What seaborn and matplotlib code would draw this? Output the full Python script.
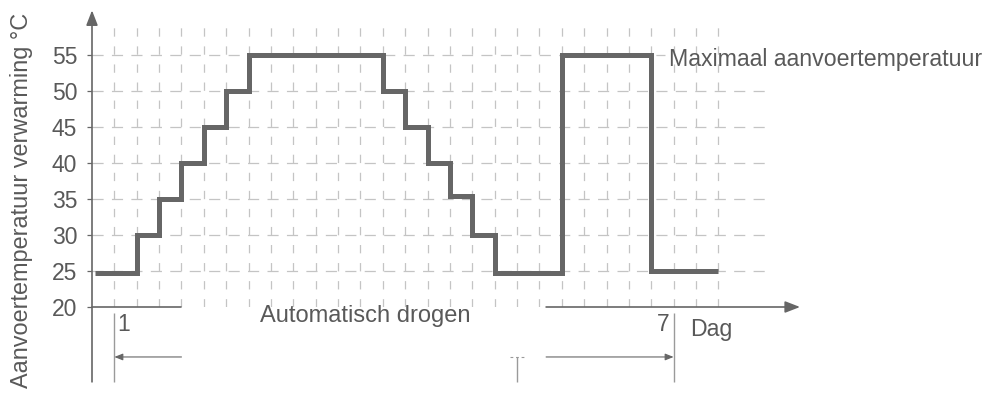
import matplotlib
matplotlib.use("Agg")
import matplotlib.pyplot as plt
import seaborn as sns

# ── data ──────────────────────────────────────────────────────────
# x in grid steps (grid line 1 = day 1, grid line 26 = day 7)
step_x = [0.15, 2, 3, 4, 5, 6, 7, 13, 14, 15, 16, 17, 18, 21, 25, 28]
step_temp = [24.7, 30, 35, 40, 45, 50, 55, 50, 45, 40, 35.4, 30, 24.7, 55, 25, 25]
y_ticks = [20, 25, 30, 35, 40, 45, 50, 55]
grid_x = list(range(1, 29))
grid_y = [25, 30, 35, 40, 45, 50, 55]

ylabel = "Aanvoertemperatuur verwarming °C"
max_label = "Maximaal aanvoertemperatuur"
dry_label = "Automatisch drogen"
x_label = "Dag"

# ── style ─────────────────────────────────────────────────────────
sns.set_style("white")
plt.rcParams["font.family"] = ["Liberation Sans", "DejaVu Sans"]
plt.rcParams["lines.scale_dashes"] = False

TXT = "#595959"
AX = "#666666"
GRID = "#c4c4c4"
LINE = "#666666"

fig = plt.figure(figsize=(9.97, 3.94), dpi=100)
ax = fig.add_axes([92 / 997, 87 / 394, 708 / 997, 295 / 394])
ax.set_xlim(0, 31.65)
ax.set_ylim(20, 60.97)
for s in ax.spines.values():
    s.set_visible(False)

# grid
ax.vlines(grid_x, 20, 59.9, colors=GRID, lw=0.9, linestyles=(0, (6, 7)), zorder=1)
for gy in grid_y:
    x_end = 25.6 if gy == 55 else 30.3
    ax.hlines(gy, 0, x_end, colors=GRID, lw=0.9, linestyles=(0, (8, 6)), zorder=1)

# step curve
sns.lineplot(x=step_x, y=step_temp, drawstyle="steps-post", color=LINE,
             lw=3.6, ax=ax, zorder=3, solid_joinstyle="miter", solid_capstyle="butt")

# axes with arrows
arrow_kw = dict(arrowstyle="-|>,head_length=0.9,head_width=0.35", color=AX, lw=1.2,
                shrinkA=0, shrinkB=0, mutation_scale=10)
ax.annotate("", xy=(0, 61.2), xytext=(0, 9.6), arrowprops=arrow_kw, annotation_clip=False)
ax.plot([0, 4], [20, 20], color=AX, lw=1.2, clip_on=False)
ax.annotate("", xy=(31.65, 20), xytext=(20.3, 20), arrowprops=arrow_kw, annotation_clip=False)

# y ticks
ax.set_yticks(y_ticks)
ax.set_xticks([])
ax.tick_params(axis="y", left=True, length=3.6, width=0.9, color=AX, pad=7,
               labelsize=16.5, labelcolor=TXT)
ax.set_ylabel(ylabel, fontsize=16.9, color=TXT)
ax.yaxis.set_label_coords(-0.083, 0.363)

# day markers and range arrows below the axis
ax.vlines([1, 26], 9.6, 19.2, colors="#9a9a9a", lw=1.0, clip_on=False)
ax.vlines([19.0], 9.6, 13.0, colors="#9a9a9a", lw=1.0, clip_on=False)
ax.hlines(13.0, 18.7, 19.3, colors="#9a9a9a", lw=0.8, linestyles=(0, (2, 2)), clip_on=False)
small_kw = dict(arrowstyle="-|>,head_length=0.5,head_width=0.2", color=AX, lw=0.8,
                shrinkA=0, shrinkB=0, mutation_scale=10)
ax.annotate("", xy=(1, 13.06), xytext=(4, 13.06), arrowprops=small_kw, annotation_clip=False)
ax.annotate("", xy=(26, 13.06), xytext=(20.3, 13.06), arrowprops=small_kw, annotation_clip=False)

ax.text(1.15, 16.7, "1", fontsize=16.5, color=TXT, ha="left", va="baseline")
ax.text(25.8, 16.6, "7", fontsize=16.5, color=TXT, ha="right", va="baseline")
ax.text(26.73, 16.0, x_label, fontsize=16.7, color=TXT, ha="left", va="baseline")
ax.text(12.2, 17.9, dry_label, fontsize=17, color=TXT, ha="center", va="baseline")
ax.text(25.79, 53.47, max_label, fontsize=16.7, color=TXT, ha="left", va="baseline")

fig.savefig("out.png", dpi=100)
